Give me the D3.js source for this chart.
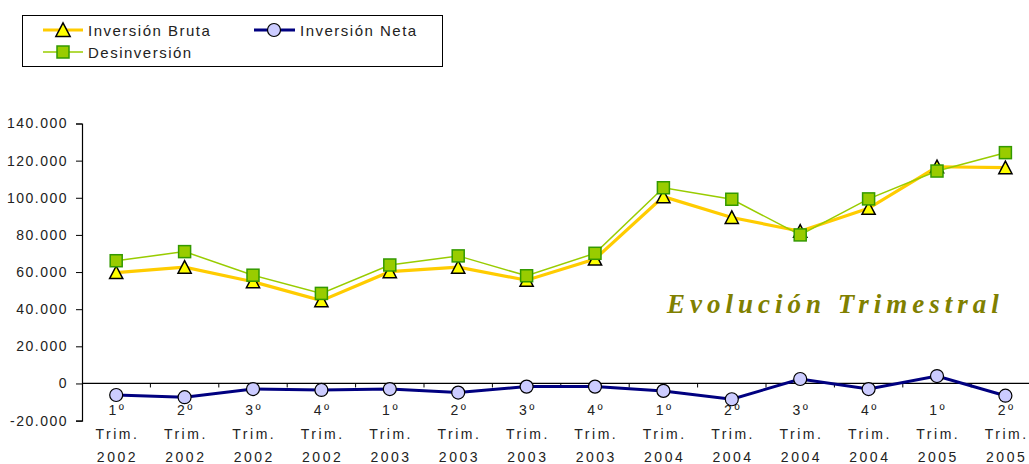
<!DOCTYPE html>
<html>
<head>
<meta charset="utf-8">
<script src="https://cdn.jsdelivr.net/npm/d3@7/dist/d3.min.js"></script>
<style>
  html, body { margin: 0; padding: 0; background: #fff; }
  svg { display: block; }
</style>
</head>
<body>
<svg id="chart" width="1029" height="464"></svg>
<script>
// ---- Data ----
const quarters = ["1º", "2º", "3º", "4º", "1º", "2º", "3º", "4º", "1º", "2º", "3º", "4º", "1º", "2º"];
const years = ["2002", "2002", "2002", "2002", "2003", "2003", "2003", "2003", "2004", "2004", "2004", "2004", "2005", "2005"];
const inversionBruta = [59700, 62600, 54800, 44600, 60200, 62600, 55600, 67000, 100600, 89400, 82000, 94300, 116700, 116200];
const desinversion = [66100, 71000, 58300, 48500, 63800, 68700, 58000, 70100, 105400, 99200, 80000, 99400, 114400, 124300];
const inversionNeta = [-6200, -7400, -3000, -3500, -3000, -4900, -1700, -1700, -4000, -8500, 2400, -3000, 4000, -6600];
const yTicks = [-20000, 0, 20000, 40000, 60000, 80000, 100000, 120000, 140000];
const seriesNames = ["Inversión Bruta", "Inversión Neta", "Desinversión"];
const titleText = "Evolución Trimestral";

// ---- Setup ----
const svg = d3.select("#chart");
const sansFont = "'Liberation Sans', Arial, sans-serif";
const textColor = "#222";

const idx = d3.range(quarters.length);
const x = d3.scaleBand().domain(idx).range([82, 82 + 14 * 68.4]).padding(0);
const cx = i => x(i) + x.bandwidth() / 2;
const y = d3.scaleLinear().domain([-20000, 140000]).range([420.6, 123.5]);

const loc = d3.formatLocale({ decimal: ",", thousands: ".", grouping: [3], currency: ["", "€"], minus: "-" });
const fmt = loc.format(",d");

// ---- Y axis ----
const yAxis = svg.append("g").attr("transform", "translate(82,0)")
  .call(d3.axisLeft(y).tickValues(yTicks).tickSize(6).tickPadding(0).tickFormat(fmt));
yAxis.select(".domain").attr("stroke", "#000").attr("stroke-width", 1.2);
yAxis.selectAll(".tick line").attr("stroke", "#000");
yAxis.selectAll(".tick text")
  .attr("x", -14)
  .attr("font-family", sansFont).attr("font-size", 14)
  .attr("letter-spacing", "1.5px")
  .attr("fill", textColor);

// ---- X axis at zero ----
const xAxisG = svg.append("g").attr("transform", `translate(0,${y(0)})`);
xAxisG.append("line").attr("x1", 82).attr("x2", 1029).attr("y1", 0).attr("y2", 0)
  .attr("stroke", "#000").attr("stroke-width", 1.2);
xAxisG.selectAll("line.tk").data(d3.range(1, quarters.length)).join("line")
  .attr("class", "tk")
  .attr("x1", i => x(i)).attr("x2", i => x(i)).attr("y1", 0).attr("y2", 4)
  .attr("stroke", "#000");

const lab = svg.append("g").attr("font-family", sansFont).attr("font-size", 14)
  .attr("fill", textColor).attr("letter-spacing", "2.5px").attr("text-anchor", "middle");
idx.forEach(i => {
  const t = lab.append("text").attr("transform", `translate(${cx(i) + 1.25},0)`);
  t.append("tspan").attr("x", 0).attr("y", 415).text(quarters[i]);
  t.append("tspan").attr("x", 0).attr("y", 438.5).text("Trim.");
  t.append("tspan").attr("x", 0).attr("y", 462).text(years[i]);
});

// ---- Title ----
svg.append("text")
  .attr("x", 667).attr("y", 313)
  .attr("font-family", "'Liberation Serif', 'Times New Roman', serif")
  .attr("font-style", "italic").attr("font-weight", "bold")
  .attr("font-size", 27).attr("letter-spacing", "5px")
  .attr("fill", "#808000")
  .text(titleText);

// ---- Marker helpers ----
const triPath = (s) => `M0,${-s * 0.55}L${s * 0.55},${s * 0.5}L${-s * 0.55},${s * 0.5}Z`;
function drawTriangle(g, px, py, s) {
  g.append("path").attr("d", triPath(s)).attr("transform", `translate(${px},${py})`)
    .attr("fill", "#ffff00").attr("stroke", "#000").attr("stroke-width", 1.5).attr("stroke-linejoin", "miter");
}
function drawSquare(g, px, py, s) {
  g.append("rect").attr("x", px - s / 2).attr("y", py - s / 2).attr("width", s).attr("height", s)
    .attr("fill", "#99cc00").attr("stroke", "#339900").attr("stroke-width", 1.5);
}
function drawCircle(g, px, py, r) {
  g.append("circle").attr("cx", px).attr("cy", py).attr("r", r)
    .attr("fill", "#ccccff").attr("stroke", "#000").attr("stroke-width", 1.2);
}

const line = d3.line().x((d, i) => cx(i)).y(d => y(d));
const plot = svg.append("g");

// Inversión Bruta
plot.append("path").datum(inversionBruta).attr("d", line)
  .attr("fill", "none").attr("stroke", "#ffcc00").attr("stroke-width", 3.2);
const gB = plot.append("g");
inversionBruta.forEach((v, i) => drawTriangle(gB, cx(i), y(v), 12));

// Desinversión
plot.append("path").datum(desinversion).attr("d", line)
  .attr("fill", "none").attr("stroke", "#99cc00").attr("stroke-width", 1.5);
const gD = plot.append("g");
desinversion.forEach((v, i) => drawSquare(gD, cx(i), y(v), 12));

// Inversión Neta
plot.append("path").datum(inversionNeta).attr("d", line)
  .attr("fill", "none").attr("stroke", "#000080").attr("stroke-width", 3);
const gN = plot.append("g");
inversionNeta.forEach((v, i) => drawCircle(gN, cx(i), y(v), 6.5));

// ---- Legend ----
const leg = svg.append("g");
leg.append("rect").attr("x", 22.5).attr("y", 15.5).attr("width", 420).attr("height", 51)
  .attr("fill", "#fff").attr("stroke", "#000").attr("stroke-width", 1);
const legText = (tx, ty, t) => leg.append("text").attr("x", tx).attr("y", ty)
  .attr("font-family", sansFont).attr("font-size", 15).attr("letter-spacing", "1.5px")
  .attr("fill", textColor).text(t);

leg.append("line").attr("x1", 43).attr("x2", 83).attr("y1", 30).attr("y2", 30)
  .attr("stroke", "#ffcc00").attr("stroke-width", 3);
drawTriangle(leg, 63, 30, 13);
legText(88, 36, seriesNames[0]);

leg.append("line").attr("x1", 254).attr("x2", 295).attr("y1", 30).attr("y2", 30)
  .attr("stroke", "#000080").attr("stroke-width", 3);
drawCircle(leg, 274, 30, 6.5);
legText(300, 36, seriesNames[1]);

leg.append("line").attr("x1", 43).attr("x2", 83).attr("y1", 52).attr("y2", 52)
  .attr("stroke", "#99cc00").attr("stroke-width", 1.5);
drawSquare(leg, 63, 52, 12);
legText(88, 58, seriesNames[2]);
</script>
</body>
</html>
